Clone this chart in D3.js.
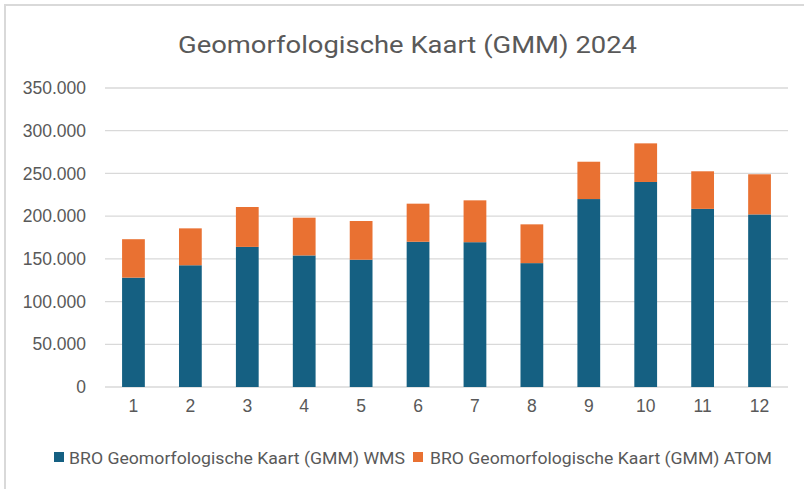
<!DOCTYPE html>
<html>
<head>
<meta charset="utf-8">
<script src="https://cdn.jsdelivr.net/npm/d3@7"></script>
<style>
  html, body { margin: 0; padding: 0; background: #fff; }
  svg { display: block; }
</style>
</head>
<body>
<svg id="chart" width="804" height="489"></svg>
<script>
const months = ["1","2","3","4","5","6","7","8","9","10","11","12"];
const wmsValues  = [128000, 142500, 164000, 154000, 149000, 170000, 169500, 145000, 220000, 240000, 208500, 202000];
const atomValues = [45000, 43200, 46700, 44200, 45300, 44600, 49000, 45400, 43700, 45200, 44000, 47000];
const yTicks = [0, 50000, 100000, 150000, 200000, 250000, 300000, 350000];
const seriesNames = ["BRO Geomorfologische Kaart (GMM) WMS", "BRO Geomorfologische Kaart (GMM) ATOM"];
const seriesColors = ["#156082", "#E97132"];
const title = "Geomorfologische Kaart (GMM) 2024";

const textFont = "Roboto, 'Liberation Sans', sans-serif";
const axisFont = "'Liberation Sans', Arial, sans-serif";
const textColor = "#595959";

const svg = d3.select("#chart");
const W = 804, H = 489;

// frame borders (top + left visible)
svg.append("line").attr("x1", 4).attr("x2", W).attr("y1", 5).attr("y2", 5)
  .attr("stroke", "#d9d9d9").attr("stroke-width", 2);
svg.append("line").attr("x1", 5).attr("x2", 5).attr("y1", 4).attr("y2", H)
  .attr("stroke", "#d9d9d9").attr("stroke-width", 2);

const locale = d3.formatLocale({ decimal: ",", thousands: ".", grouping: [3], currency: ["€", ""] });
const fmt = locale.format(",d");

const x = d3.scaleBand().domain(months).range([105, 788]).paddingInner(0.6).paddingOuter(0.3);
const y = d3.scaleLinear().domain([0, 350000]).range([387, 88]);

// gridlines
svg.append("g").selectAll("line").data(yTicks).join("line")
  .attr("x1", 105).attr("x2", 788)
  .attr("y1", d => y(d)).attr("y2", d => y(d))
  .attr("stroke", "#d9d9d9").attr("stroke-width", 1.3);

// y axis labels
const yAxis = svg.append("g").attr("transform", "translate(86,0)")
  .call(d3.axisLeft(y).tickValues(yTicks).tickFormat(fmt).tickSize(0).tickPadding(0));
yAxis.select(".domain").remove();
yAxis.selectAll("text").attr("fill", textColor).style("font-family", axisFont).style("font-size", "17.5px");

// x axis labels
const xAxis = svg.append("g").attr("transform", "translate(0,400)")
  .call(d3.axisBottom(x).tickSize(0).tickPadding(0));
xAxis.select(".domain").remove();
xAxis.selectAll("text").attr("fill", textColor).attr("dy", "0.71em")
  .style("font-family", axisFont).style("font-size", "17.5px");

// stacked bars
const data = months.map((m, i) => ({ month: m, wms: wmsValues[i], atom: atomValues[i] }));
const stack = d3.stack().keys(["wms", "atom"])(data);
svg.append("g").selectAll("g").data(stack).join("g")
  .attr("fill", (d, i) => seriesColors[i])
  .selectAll("rect").data(d => d).join("rect")
  .attr("x", d => x(d.data.month))
  .attr("width", x.bandwidth())
  .attr("y", d => y(d[1]))
  .attr("height", d => y(d[0]) - y(d[1]));

// title
svg.append("text").attr("x", 178).attr("y", 53)
  .attr("fill", textColor).style("font-family", textFont).style("font-size", "24px")
  .attr("textLength", 459).attr("lengthAdjust", "spacingAndGlyphs")
  .text(title);

// legend
const legend = svg.append("g");
const items = [{ x: 54, tx: 69, w: 336 }, { x: 413, tx: 430, w: 342 }];
items.forEach((it, i) => {
  legend.append("rect").attr("x", it.x).attr("y", 452).attr("width", 10).attr("height", 10)
    .attr("fill", seriesColors[i]);
  legend.append("text").attr("x", it.tx).attr("y", 464)
    .attr("fill", textColor).style("font-family", textFont).style("font-size", "16.5px")
    .attr("textLength", it.w).attr("lengthAdjust", "spacingAndGlyphs")
    .text(seriesNames[i]);
});
</script>
</body>
</html>
